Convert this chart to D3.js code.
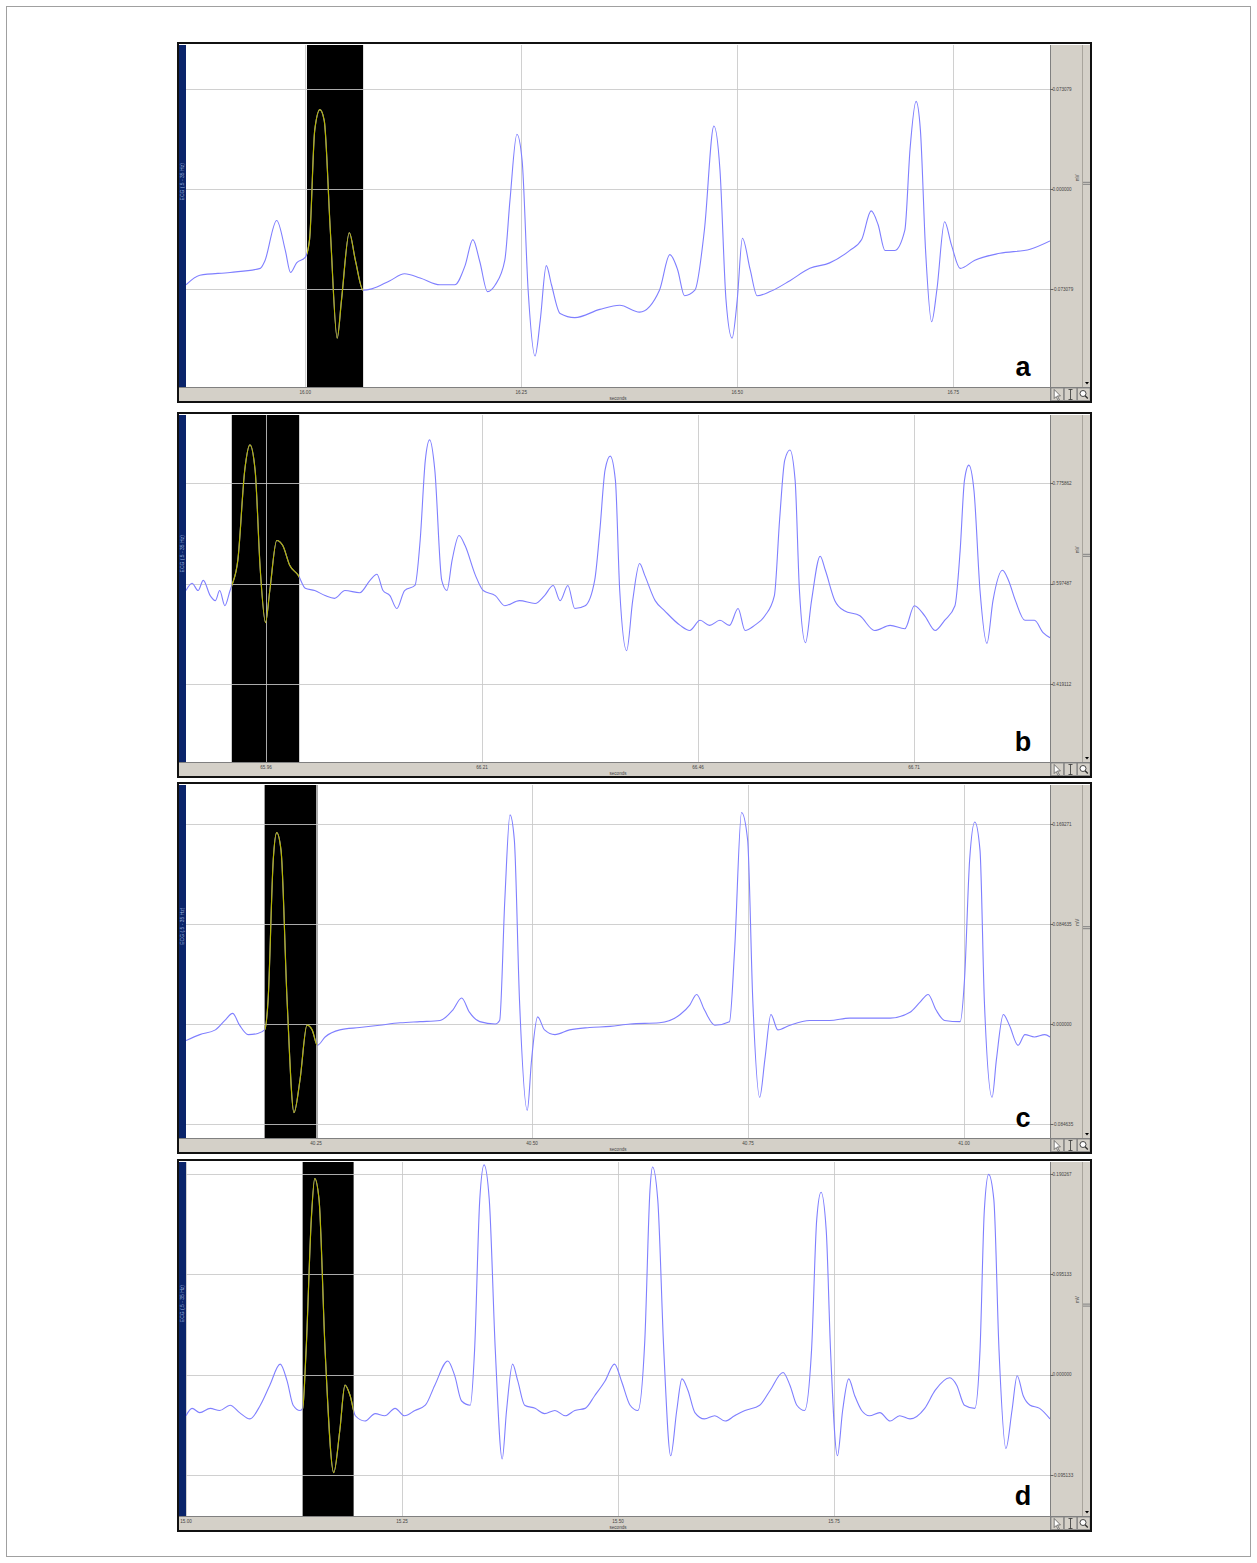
<!DOCTYPE html>
<html>
<head>
<meta charset="utf-8">
<script src="https://cdn.jsdelivr.net/npm/d3@7"></script>
<style>
  body { margin: 0; background: #fff; }
  svg { display: block; }
</style>
</head>
<body>
<div id="chart"></div>
<script>
// traces: [ms from left edge of window, µV]
const traceA = [[0,-70],[16,-63],[51,-61],[86,-58],[91,-53],[105,-23],[115,-45],[121,-61],[128,-54],[138,-50],
  [143,-37],[149,43],[155,58],[160,50],[167,-30],[175,-109],[180,-81],[189,-32],[196,-52],[205,-74],
  [215,-73],[236,-67],[253,-62],[271,-65],[294,-70],[311,-70],[323,-56],[332,-37],[340,-53],[349,-75],
  [358,-70],[369,-52],[375,-8],[383,40],[389,21],[396,-74],[404,-122],[410,-96],[417,-56],[423,-70],
  [433,-91],[450,-94],[479,-88],[502,-85],[525,-90],[548,-74],[560,-48],[569,-59],[577,-78],[589,-74],
  [600,-30],[611,46],[618,14],[625,-81],[632,-109],[638,-81],[644,-36],[653,-59],[661,-78],[676,-75],
  [699,-67],[722,-58],[745,-54],[768,-45],[782,-37],[793,-16],[801,-26],[809,-45],[820,-45],[832,-30],
  [838,29],[845,64],[850,43],[856,-45],[863,-97],[869,-74],[878,-24],[886,-41],[896,-58],[913,-52],
  [942,-47],[977,-44],[1000,-38]];

const traceB = [[0,585],[7,598],[14,585],[20,603],[28,576],[34,567],[39,585],[45,558],[51,585],[53,594],
  [60,639],[68,799],[74,844],[80,799],[86,621],[92,528],[97,585],[105,674],[112,665],[120,630],
  [130,612],[138,589],[149,585],[161,576],[172,571],[184,585],[201,581],[213,603],[221,614],[228,585],
  [236,576],[244,553],[253,585],[265,594],[271,674],[277,817],[282,853],[288,799],[296,603],[302,585],
  [308,639],[316,683],[323,665],[335,612],[344,585],[358,576],[369,558],[386,567],[404,562],[415,576],
  [425,594],[433,567],[442,594],[450,553],[462,558],[473,603],[479,692],[485,799],[491,824],[497,781],
  [502,585],[510,478],[517,567],[525,633],[531,612],[543,567],[554,549],[572,523],[583,514],[595,532],
  [606,523],[618,532],[629,523],[639,553],[647,514],[658,523],[670,540],[681,576],[687,710],[693,817],
  [699,835],[705,781],[710,585],[717,492],[724,567],[734,646],[740,621],[751,567],[762,549],[780,540],
  [797,514],[815,523],[832,517],[843,558],[855,540],[867,514],[878,532],[890,558],[896,656],[901,781],
  [906,808],[912,763],[919,585],[927,491],[934,567],[945,621],[952,603],[960,567],[971,532],[982,532],
  [992,510],[1000,501]];

const traceC = [[0,-14],[16,-9],[34,-5],[45,3],[54,9],[62,-1],[72,-9],[83,-8],[91,-5],[95,20],
  [101,139],[105,162],[110,147],[117,20],[125,-75],[132,-47],[140,-1],[146,-5],[152,-18],[161,-11],
  [178,-5],[201,-3],[224,-1],[248,1],[271,2],[294,3],[309,12],[319,22],[328,10],[340,2],
  [358,0],[363,3],[369,105],[375,177],[380,156],[386,20],[395,-73],[400,-30],[407,6],[415,-5],
  [427,-9],[444,-5],[467,-3],[491,-2],[514,0],[548,1],[572,8],[583,16],[591,25],[600,12],
  [612,-1],[629,2],[635,63],[643,179],[650,156],[656,20],[664,-62],[670,-30],[677,8],[685,-5],
  [699,-1],[722,3],[745,3],[768,5],[791,5],[815,5],[838,10],[849,18],[859,25],[868,12],
  [878,3],[896,2],[901,37],[907,139],[913,171],[919,147],[924,20],[933,-62],[938,-30],[946,8],
  [953,-1],[963,-18],[971,-9],[982,-11],[994,-9],[1000,-11]];

const traceD = [[0,-39],[7,-32],[16,-36],[28,-32],[39,-34],[51,-29],[62,-36],[74,-42],[86,-29],[97,-10],
  [109,10],[117,-6],[124,-29],[132,-34],[135,-32],[139,23],[145,147],[149,186],[154,166],[161,23],
  [171,-93],[178,-53],[184,-10],[190,-20],[196,-39],[207,-44],[219,-37],[230,-39],[242,-32],[253,-39],
  [265,-34],[277,-29],[288,-10],[303,13],[311,-1],[319,-25],[329,-29],[334,23],[340,166],[345,199],
  [351,166],[358,23],[366,-80],[371,-34],[378,10],[384,-6],[392,-29],[404,-32],[415,-37],[427,-34],
  [439,-39],[450,-34],[462,-32],[473,-20],[485,-6],[496,10],[504,-6],[514,-29],[523,-34],[531,32],
  [537,175],[540,197],[546,166],[553,23],[561,-77],[568,-34],[574,-4],[581,-15],[589,-36],[600,-42],
  [612,-39],[624,-44],[635,-39],[647,-34],[664,-29],[676,-15],[691,2],[699,-10],[707,-29],[716,-34],
  [724,23],[730,147],[735,173],[741,137],[746,23],[754,-77],[760,-34],[767,-4],[774,-20],[782,-34],
  [791,-39],[803,-36],[815,-44],[826,-39],[838,-42],[855,-32],[867,-15],[884,-3],[892,-10],[901,-29],
  [913,-32],[919,23],[924,156],[929,190],[935,166],[941,23],[949,-70],[956,-34],[962,-1],[969,-20],
  [977,-29],[988,-32],[1000,-42]];

// window start (s) and highlighted segment (ms)
const startTimes = [15.862, 65.8674, 40.0995, 15.00];
const highlights = [[140, 205], [53, 131], [91, 152], [135, 194]];

// tick values
const xTicksA = [16.00, 16.25, 16.50, 16.75];
const xTicksB = [65.96, 66.21, 66.46, 66.71];
const xTicksC = [40.25, 40.50, 40.75, 41.00];
const xTicksD = [15.00, 15.25, 15.50, 15.75];
const yTicksA = [73.079, 0, -73.079];
const yTicksB = [775.862, 597.487, 419.112];
const yTicksC = [169.271, 84.635, 0, -84.635];
const yTicksD = [190.267, 95.133, 0, -95.133];
// visible amplitude range (µV)
const yRanges = [[-144.7, 105.2], [280.0, 897.2], [-96.5, 202.3], [-134.1, 201.7]];

const panelLabels = ["a", "b", "c", "d"];
const channelName = "ECG (.5 - 35 Hz)";

const W = 1257, H = 1563;
const svg = d3.select("#chart").append("svg").attr("width", W).attr("height", H);

svg.append("rect").attr("x", 6.5).attr("y", 6.5).attr("width", 1244).attr("height", 1550)
  .attr("fill", "none").attr("stroke", "#a0a0a0").attr("stroke-width", 1);

const boxes = [[43, 402], [413, 777], [783, 1153], [1160, 1531]];
const boxLeft = 178, boxRight = 1091;
const plotLeft = 186, plotRight = 1050;
const stripH = 15;
const grey = "#d4d0c8";

const traces = [traceA, traceB, traceC, traceD];
const xTicks = [xTicksA, xTicksB, xTicksC, xTicksD];
const yTicks = [yTicksA, yTicksB, yTicksC, yTicksD];

traces.forEach((trace, i) => {
  const [top, bottom] = boxes[i];
  const pTop = top + 2, pBot = bottom - stripH;
  const t0 = startTimes[i];
  const g = svg.append("g");

  const x = d3.scaleLinear().domain([t0, t0 + 1]).range([plotLeft, plotRight]);
  const y = d3.scaleLinear().domain(yRanges[i]).range([pBot, pTop]);
  const pts = trace.map(d => [t0 + d[0] / 1000, d[1]]);

  // plot background
  g.append("rect").attr("x", plotLeft).attr("y", pTop).attr("width", plotRight - plotLeft).attr("height", pBot - pTop)
    .attr("fill", "#fff");

  // highlighted window
  const h0 = x(t0 + highlights[i][0] / 1000), h1 = x(t0 + highlights[i][1] / 1000);
  g.append("rect").attr("x", h0).attr("y", pTop).attr("width", h1 - h0).attr("height", pBot - pTop)
    .attr("fill", "#000");

  // grid
  g.selectAll(".vg").data(xTicks[i]).join("line")
    .attr("x1", d => Math.round(x(d)) + 0.5).attr("x2", d => Math.round(x(d)) + 0.5)
    .attr("y1", pTop).attr("y2", pBot)
    .attr("stroke", "#c8c8c8").attr("stroke-width", 1).attr("opacity", 0.85);
  g.selectAll(".hg").data(yTicks[i]).join("line")
    .attr("x1", plotLeft).attr("x2", plotRight)
    .attr("y1", d => Math.round(y(d)) + 0.5).attr("y2", d => Math.round(y(d)) + 0.5)
    .attr("stroke", "#c8c8c8").attr("stroke-width", 1).attr("opacity", 0.85);

  // trace
  const line = d3.line().x(d => x(d[0])).y(d => y(d[1])).curve(d3.curveMonotoneX);
  const clipId = "hl" + i;
  g.append("clipPath").attr("id", clipId).append("rect")
    .attr("x", h0).attr("y", pTop).attr("width", h1 - h0).attr("height", pBot - pTop);
  const plotClip = "pc" + i;
  g.append("clipPath").attr("id", plotClip).append("rect")
    .attr("x", plotLeft).attr("y", pTop).attr("width", plotRight - plotLeft).attr("height", pBot - pTop);
  g.append("path").attr("d", line(pts)).attr("fill", "none")
    .attr("stroke", "#7f7fff").attr("stroke-width", 1.1).attr("clip-path", `url(#${plotClip})`);
  g.append("path").attr("d", line(pts)).attr("fill", "none")
    .attr("stroke", "#b4b400").attr("stroke-width", 1.2).attr("clip-path", `url(#${clipId})`);

  // left channel strip
  g.append("rect").attr("x", boxLeft).attr("y", pTop).attr("width", plotLeft - boxLeft).attr("height", pBot - pTop)
    .attr("fill", "#0a246a");
  const ly = pTop + 0.4 * (pBot - pTop);
  g.append("text").attr("transform", `translate(${(boxLeft + plotLeft) / 2 + 1.8},${ly}) rotate(-90)`)
    .attr("text-anchor", "middle").attr("font-family", "Liberation Sans, Arial, sans-serif")
    .attr("font-size", 5).attr("fill", "#9fb0dd").text(channelName);

  // right amplitude strip
  g.append("rect").attr("x", plotRight).attr("y", pTop).attr("width", boxRight - plotRight).attr("height", bottom - pTop)
    .attr("fill", grey);
  g.append("line").attr("x1", plotRight + 0.5).attr("x2", plotRight + 0.5).attr("y1", pTop).attr("y2", bottom)
    .attr("stroke", "#808080");
  g.append("line").attr("x1", 1082.5).attr("x2", 1082.5).attr("y1", pTop).attr("y2", pBot)
    .attr("stroke", "#a8a49c");
  g.append("line").attr("x1", 1083).attr("x2", boxRight).attr("y1", ly + 0.5).attr("y2", ly + 0.5)
    .attr("stroke", "#808080");
  g.append("line").attr("x1", 1083).attr("x2", boxRight).attr("y1", ly + 2.5).attr("y2", ly + 2.5)
    .attr("stroke", "#808080");
  g.append("path").attr("d", `M1085,${pBot - 5}h4l-2,2.5z`).attr("fill", "#000");

  const yAxis = g.append("g");
  yAxis.selectAll("line").data(yTicks[i]).join("line")
    .attr("x1", plotRight).attr("x2", plotRight + 3)
    .attr("y1", d => Math.round(y(d)) + 0.5).attr("y2", d => Math.round(y(d)) + 0.5)
    .attr("stroke", "#666");
  yAxis.selectAll("text").data(yTicks[i]).join("text")
    .attr("x", plotRight + 2.5).attr("y", d => y(d) + 1.8)
    .attr("font-family", "Liberation Sans, Arial, sans-serif").attr("font-size", 4.6).attr("fill", "#444")
    .text(d => (d / 1000).toFixed(6));
  g.append("text").attr("transform", `translate(${1079},${ly - 4}) rotate(-90)`)
    .attr("text-anchor", "middle").attr("font-family", "Liberation Sans, Arial, sans-serif")
    .attr("font-size", 4.6).attr("fill", "#444").text("mV");

  // bottom time strip
  g.append("rect").attr("x", boxLeft).attr("y", pBot).attr("width", plotRight - boxLeft).attr("height", bottom - pBot)
    .attr("fill", grey);
  g.append("line").attr("x1", boxLeft).attr("x2", boxRight).attr("y1", pBot + 0.5).attr("y2", pBot + 0.5)
    .attr("stroke", "#808080");
  g.selectAll(".xt").data(xTicks[i]).join("text")
    .attr("x", d => x(d)).attr("y", pBot + 7)
    .attr("text-anchor", "middle").attr("font-family", "Liberation Sans, Arial, sans-serif")
    .attr("font-size", 4.6).attr("fill", "#444").text(d => d.toFixed(2));
  g.append("text").attr("x", (plotLeft + plotRight) / 2 - 0).attr("y", pBot + 12.5)
    .attr("text-anchor", "middle").attr("font-family", "Liberation Sans, Arial, sans-serif")
    .attr("font-size", 4.6).attr("fill", "#444").text("seconds");

  // tool buttons
  ["arrow", "ibeam", "zoom"].forEach((b, k) => {
    const bx = plotRight + 1 + k * 13.3;
    g.append("rect").attr("x", bx).attr("y", pBot + 1).attr("width", 12.5).attr("height", bottom - pBot - 2.5)
      .attr("fill", grey).attr("stroke", "#808080").attr("stroke-width", 0.8);
    const cx = bx + 6.2, cy = pBot + 7.5;
    if (b === "arrow") {
      g.append("path").attr("d", `M${cx - 3},${cy - 5}l0,9l2,-2l2,4l1.2,-0.6l-2,-4l3,0z`)
        .attr("fill", "#fff").attr("stroke", "#333").attr("stroke-width", 0.6);
    } else if (b === "ibeam") {
      g.append("path").attr("d", `M${cx - 2},${cy - 5}h4M${cx},${cy - 5}v10M${cx - 2},${cy + 5}h4`)
        .attr("fill", "none").attr("stroke", "#333").attr("stroke-width", 0.8);
    } else {
      g.append("circle").attr("cx", cx - 0.8).attr("cy", cy - 1).attr("r", 3)
        .attr("fill", "#fff").attr("stroke", "#333").attr("stroke-width", 0.9);
      g.append("line").attr("x1", cx + 1.3).attr("y1", cy + 1.2).attr("x2", cx + 4).attr("y2", cy + 4)
        .attr("stroke", "#333").attr("stroke-width", 1.4);
    }
  });

  // frame
  g.append("rect").attr("x", boxLeft).attr("y", top).attr("width", boxRight - boxLeft).attr("height", bottom - top)
    .attr("fill", "none").attr("stroke", "#111").attr("stroke-width", 2);

  // panel letter
  g.append("text").attr("x", 1023).attr("y", pBot - 11)
    .attr("text-anchor", "middle").attr("font-family", "Liberation Sans, Arial, sans-serif")
    .attr("font-weight", "bold").attr("font-size", 27).attr("fill", "#000").text(panelLabels[i]);
});
</script>
</body>
</html>
